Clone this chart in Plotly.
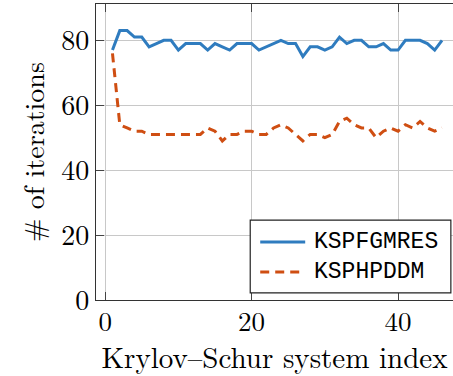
import plotly.graph_objects as go

# Krylov-Schur system index
system_index = list(range(1, 47))

# Iteration counts per linear solver
fgmres_iters = [77, 83, 83, 81, 81, 78, 79, 80, 80, 77,
                79, 79, 79, 77, 79, 78, 77, 79, 79, 79,
                77, 78, 79, 80, 79, 79, 75, 78, 78, 77,
                78, 81, 79, 80, 80, 78, 78, 79, 77, 77,
                80, 80, 80, 79, 77, 80]
hpddm_iters = [76, 54, 53, 52, 52, 51, 51, 51, 51, 51,
               51, 51, 51, 53, 52, 49, 51, 51, 52, 52,
               51, 51, 53, 54, 53, 51, 49, 51, 51, 50,
               51, 55, 56, 54, 53, 53, 50, 52, 53, 52,
               54, 53, 55, 53, 52, 53]

series_names = ["KSPFGMRES", "KSPHPDDM"]
x_ticks = [0, 20, 40]
y_ticks = [0, 20, 40, 60, 80]

serif = "Latin Modern Roman, CMU Serif, Liberation Serif, DejaVu Serif, serif"
mono = "Liberation Mono, DejaVu Sans Mono, monospace"

styles = [
    dict(color="#2f7cbf", width=3),
    dict(color="#cf4e12", width=3, dash="9px,6px"),
]

fig = go.Figure()
for name, values, style in zip(series_names, [fgmres_iters, hpddm_iters], styles):
    fig.add_trace(go.Scatter(
        x=system_index, y=values, mode="lines", name=name, line=style,
        showlegend=False,
    ))

# Legend box drawn in paper coordinates (south-east corner of the axes)
box_x0, box_x1 = 0.432, 0.994
box_y0, box_y1 = 0.024, 0.270
fig.add_shape(type="rect", xref="paper", yref="paper",
              x0=box_x0, x1=box_x1, y0=box_y0, y1=box_y1,
              line=dict(color="#222", width=1.2), fillcolor="white",
              layer="above")
row_y = [0.196, 0.095]
for name, style, ry in zip(series_names, styles, row_y):
    fig.add_shape(type="line", xref="paper", yref="paper",
                  x0=0.460, x1=0.586, y0=ry, y1=ry,
                  line=style, layer="above")
    fig.add_annotation(xref="paper", yref="paper", x=0.605, y=ry,
                       xanchor="left", yanchor="middle", text=name,
                       showarrow=False,
                       font=dict(family=mono, size=23, color="black"))

fig.update_layout(
    width=453, height=376,
    margin=dict(l=96, r=0, t=4, b=76),
    paper_bgcolor="white", plot_bgcolor="white",
    font=dict(family=serif, size=28, color="black"),
    xaxis=dict(
        range=[-1.25, 47.5], tickmode="array", tickvals=x_ticks,
        ticks="inside", ticklen=8, tickcolor="#444", tickwidth=1,
        ticklabelstandoff=-3,
        showline=True, linecolor="#333", linewidth=1.2, mirror="ticks",
        showgrid=True, gridcolor="#c8c8c8", gridwidth=1,
        zeroline=False,
        title=dict(text="Krylov–Schur system index", standoff=16,
                   font=dict(family=serif, size=29)),
        tickfont=dict(family=serif, size=27),
    ),
    yaxis=dict(
        range=[0, 91.2], tickmode="array", tickvals=y_ticks,
        ticks="inside", ticklen=8, tickcolor="#444", tickwidth=1,
        showline=True, linecolor="#333", linewidth=1.2,
        showgrid=True, gridcolor="#c8c8c8", gridwidth=1,
        zeroline=False,
        title=dict(text="# of iterations", standoff=8,
                   font=dict(family=serif, size=28)),
        tickfont=dict(family=serif, size=28),
    ),
)

fig.write_html("out.html")
